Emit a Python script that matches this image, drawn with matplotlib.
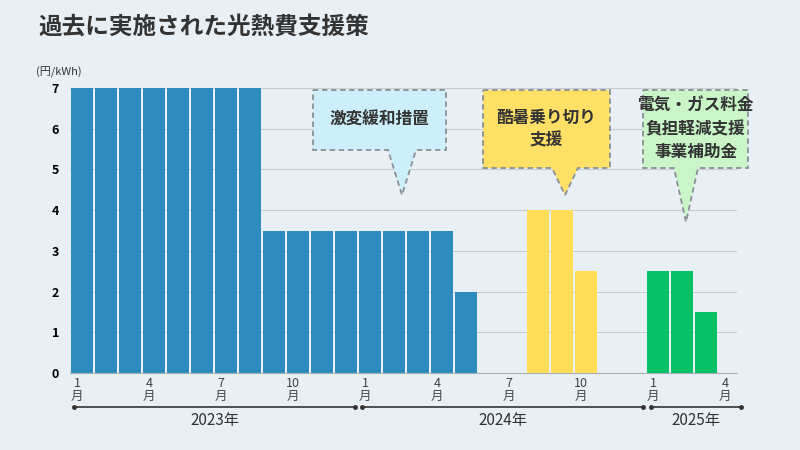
import matplotlib
matplotlib.use("Agg")
import matplotlib.pyplot as plt
from matplotlib.patches import Polygon

plt.rcParams["font.family"] = "Noto Sans CJK JP"

# months index 0 = 2023-01
blue_idx = list(range(0, 17))
blue_vals = [7]*8 + [3.5]*8 + [2]
yellow_idx = [19, 20, 21]
yellow_vals = [4, 4, 2.5]
green_idx = [24, 25, 26]
green_vals = [2.5, 2.5, 1.5]
tick_idx = [0, 3, 6, 9, 12, 15, 18, 21, 24, 27]
tick_labels = ["1\n月", "4\n月", "7\n月", "10\n月", "1\n月", "4\n月", "7\n月", "10\n月", "1\n月", "4\n月"]
years = ["2023年", "2024年", "2025年"]
callouts = ["激変緩和措置", "酷暑乗り切り\n支援", "電気・ガス料金\n負担軽減支援\n事業補助金"]

W, H = 800, 450
fig = plt.figure(figsize=(8, 4.5), dpi=100)
fig.patch.set_facecolor("#e8eff5")

def fx(x): return x / W
def fy(y): return 1 - y / H

x0 = (70 - 82) / 24
x1 = x0 + (737 - 70) / 24
ax = fig.add_axes([fx(70), fy(373), fx(737 - 70), (373 - 88) / H])
ax.set_facecolor("#e8eff5")
ax.set_xlim(x0, x1)
ax.set_ylim(0, 7)
ax.bar(blue_idx, blue_vals, width=0.9, color="#2e8bbd")
ax.bar(yellow_idx, yellow_vals, width=0.9, color="#ffdd57")
ax.bar(green_idx, green_vals, width=0.9, color="#06c167")
ax.set_yticks(range(8))
ax.yaxis.grid(True, color="#c8cdd2", lw=0.8)
ax.set_axisbelow(True)
for s in ["top", "right", "left"]:
    ax.spines[s].set_visible(False)
ax.spines["bottom"].set_color("#aab0b5")
ax.tick_params(axis="y", length=0, labelsize=9, pad=8)
for t in ax.get_yticklabels():
    t.set_fontweight("bold")
ax.set_xticks([i - 0.2 for i in tick_idx])
ax.set_xticklabels(tick_labels, fontsize=9, color="#444444", linespacing=1.0)
ax.tick_params(axis="x", length=0, pad=3)

fig.text(fx(38), fy(28), "過去に実施された光熱費支援策", fontsize=17, fontweight="bold", color="#333333", va="center")
fig.text(fx(36), fy(72), "(円/kWh)", fontsize=8, color="#333333", va="center")

for (a, b), lab in zip([(74, 355), (362, 643), (651, 741)], years):
    fig.add_artist(plt.Line2D([fx(a), fx(b)], [fy(407), fy(407)], color="#333333", lw=1.2))
    fig.add_artist(plt.Line2D([fx(a), fx(b)], [fy(407), fy(407)], color="#333333", lw=0,
                              marker="o", markersize=2.5))
    fig.text(fx((a + b) / 2), fy(420), lab, ha="center", va="center", fontsize=11, color="#333333")

boxes = [((313, 90, 446, 150), (388, 402, 416), 195, "#cdeefb"),
         ((483, 90, 610, 168), (552, 565, 578), 195, "#ffe066"),
         ((643, 90, 748, 168), (674, 686, 698), 222, "#c9f5c9")]
for (l, t, r, b), (pa, pt, pb), ty, col in boxes:
    pts = [(l, t), (r, t), (r, b), (pb, b), (pt, ty), (pa, b), (l, b)]
    poly = Polygon([(fx(x), fy(y)) for x, y in pts], closed=True, transform=fig.transFigure,
                   facecolor=col, edgecolor="#8a9096", lw=1.3, ls=(0, (3, 2)))
    fig.add_artist(poly)
for ((l, t, r, b), _, _, _), txt in zip(boxes, callouts):
    fig.text(fx((l + r) / 2), fy((t + b) / 2), txt, ha="center", va="center", fontsize=12,
             fontweight="bold", color="#333333", linespacing=1.35)

fig.savefig("out.png", dpi=100, facecolor=fig.get_facecolor())
